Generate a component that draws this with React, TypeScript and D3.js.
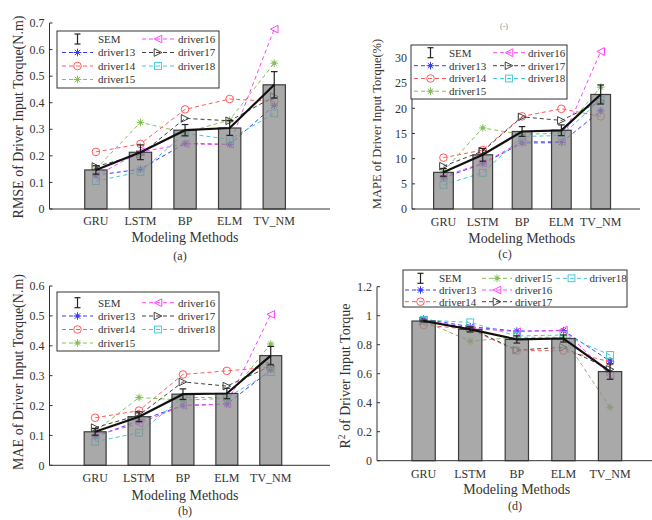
import React from "react";
import * as d3 from "d3";

const categories = ["GRU", "LSTM", "BP", "ELM", "TV_NM"];
const driverNames = ["driver13", "driver14", "driver15", "driver16", "driver17", "driver18"];

// rows = drivers 13..18, columns = categories
const rmseValues = [
  [0.127, 0.150, 0.247, 0.243, 0.390],
  [0.215, 0.245, 0.375, 0.414, 0.405],
  [0.150, 0.326, 0.287, 0.335, 0.549],
  [0.125, 0.215, 0.245, 0.243, 0.677],
  [0.160, 0.205, 0.341, 0.332, 0.423],
  [0.105, 0.140, 0.285, 0.262, 0.360],
];
const maeValues = [
  [0.096, 0.149, 0.200, 0.205, 0.319],
  [0.159, 0.183, 0.304, 0.316, 0.328],
  [0.113, 0.227, 0.218, 0.224, 0.406],
  [0.100, 0.140, 0.200, 0.205, 0.505],
  [0.126, 0.168, 0.279, 0.265, 0.332],
  [0.079, 0.109, 0.227, 0.227, 0.312],
];
const mapeValues = [
  [6.2, 9.0, 13.1, 13.2, 19.5],
  [10.2, 11.7, 18.4, 19.9, 18.4],
  [7.5, 16.1, 14.8, 15.1, 24.2],
  [6.5, 9.1, 13.4, 13.4, 31.3],
  [8.5, 11.5, 18.3, 17.6, 21.4],
  [4.8, 7.2, 14.4, 14.6, 21.7],
];
const r2Values = [
  [0.977, 0.924, 0.894, 0.897, 0.687],
  [0.936, 0.906, 0.759, 0.759, 0.683],
  [0.963, 0.825, 0.851, 0.851, 0.368],
  [0.970, 0.913, 0.890, 0.901, 0.591],
  [0.963, 0.913, 0.763, 0.782, 0.630],
  [0.970, 0.954, 0.860, 0.867, 0.729],
];

const rmseTicks = [0, 0.1, 0.2, 0.3, 0.4, 0.5, 0.6, 0.7];
const maeTicks = [0, 0.1, 0.2, 0.3, 0.4, 0.5, 0.6];
const mapeTicks = [0, 5, 10, 15, 20, 25, 30];
const r2Ticks = [0, 0.2, 0.4, 0.6, 0.8, 1, 1.2];

const driverColors = ["#3a3aff", "#ff5a5a", "#86c05a", "#ff44ff", "#404040", "#44c8d8"];
const driverMarkers = ["asterisk", "circle", "asterisk", "triLeft", "triRight", "square"];

const FONT = "'Liberation Serif', 'Times New Roman', serif";
const TXT = "#333";

function Marker({ type, x, y, color }: { type: string; x: number; y: number; color: string }) {
  const s = 3.8;
  const common = { stroke: color, strokeWidth: 1, fill: "none" };
  if (type === "asterisk") {
    const d = s * 0.72;
    return (
      <g {...common}>
        <line x1={x - s} y1={y} x2={x + s} y2={y} />
        <line x1={x} y1={y - s} x2={x} y2={y + s} />
        <line x1={x - d} y1={y - d} x2={x + d} y2={y + d} />
        <line x1={x - d} y1={y + d} x2={x + d} y2={y - d} />
        <circle cx={x} cy={y} r={1.4} fill={color} />
      </g>
    );
  }
  if (type === "circle") return <circle cx={x} cy={y} r={s} {...common} />;
  if (type === "square") return <rect x={x - s * 0.9} y={y - s * 0.9} width={s * 1.8} height={s * 1.8} {...common} />;
  if (type === "triLeft")
    return <polygon points={`${x - s},${y} ${x + s},${y - s} ${x + s},${y + s}`} {...common} />;
  return <polygon points={`${x + s},${y} ${x - s},${y - s} ${x - s},${y + s}`} {...common} />;
}

type PanelCfg = {
  values: number[][];
  ticks: number[];
  yDomain: [number, number];
  yRange: [number, number];
  xDomain: [number, number];
  xRange: [number, number];
  yLabel: React.ReactNode;
  yLabelPos: [number, number];
  yLabelSize: number;
  tickLabelY: number;
  titlePos: [number, number];
  panelLabel: string;
  panelLabelPos: [number, number];
  legend: {
    box: [number, number, number, number];
    cols: [number, number, number][];
    rows: number[];
  };
};

function Panel({ cfg }: { cfg: PanelCfg }) {
  const x = d3.scaleLinear().domain(cfg.xDomain).range(cfg.xRange);
  const y = d3.scaleLinear().domain(cfg.yDomain).range(cfg.yRange);
  const spacing = x(2) - x(1);
  const bw = spacing * 0.5;
  const n = cfg.values.length;
  const means = categories.map((_, j) => d3.mean(cfg.values.map((r) => r[j])) as number);
  const sems = categories.map((_, j) => (d3.deviation(cfg.values.map((r) => r[j])) as number) / Math.sqrt(n));
  const line = d3
    .line<number>()
    .x((_, i) => x(i + 1))
    .y((v) => y(v));
  const fmt = (v: number) => String(+v.toFixed(2));
  const legendItems = ["SEM", ...driverNames];
  const nRows = cfg.legend.rows.length;

  return (
    <g fontFamily={FONT}>
      {cfg.values.map((row, di) => (
        <g key={di}>
          <path d={line(row) || ""} fill="none" stroke={driverColors[di]} strokeWidth={1} strokeDasharray="4,3" />
          {row.map((v, j) => (
            <Marker key={j} type={driverMarkers[di]} x={x(j + 1)} y={y(v)} color={driverColors[di]} />
          ))}
        </g>
      ))}
      {means.map((m, j) => (
        <rect
          key={j}
          x={x(j + 1) - bw / 2}
          y={y(m)}
          width={bw}
          height={y(0) - y(m)}
          fill="#8c8c8c"
          fillOpacity={0.75}
          stroke="#3c3c3c"
          strokeWidth={1.2}
        />
      ))}
      {means.map((m, j) => (
        <g key={j} stroke="#222" strokeWidth={1.2}>
          <line x1={x(j + 1)} x2={x(j + 1)} y1={y(m - sems[j])} y2={y(m + sems[j])} />
          <line x1={x(j + 1) - 3.3} x2={x(j + 1) + 3.3} y1={y(m - sems[j])} y2={y(m - sems[j])} />
          <line x1={x(j + 1) - 3.3} x2={x(j + 1) + 3.3} y1={y(m + sems[j])} y2={y(m + sems[j])} />
        </g>
      ))}
      <path d={line(means) || ""} fill="none" stroke="#111" strokeWidth={2.2} />
      <g stroke="#333" strokeWidth={1}>
        <line x1={cfg.xRange[0]} x2={cfg.xRange[1]} y1={y(0)} y2={y(0)} />
        <line x1={cfg.xRange[0]} x2={cfg.xRange[0]} y1={y(cfg.yDomain[0])} y2={y(cfg.yDomain[1])} />
        {cfg.ticks.map((t) => (
          <line key={t} x1={cfg.xRange[0]} x2={cfg.xRange[0] + 3} y1={y(t)} y2={y(t)} />
        ))}
      </g>
      {cfg.ticks.map((t) => (
        <text key={t} x={cfg.xRange[0] - 5} y={y(t)} dy="0.35em" textAnchor="end" fontSize={12} fill={TXT}>
          {fmt(t)}
        </text>
      ))}
      {categories.map((c, j) => (
        <text key={c} x={x(j + 1)} y={cfg.tickLabelY} dy="0.35em" textAnchor="middle" fontSize={12} fill={TXT}>
          {c}
        </text>
      ))}
      <text x={cfg.titlePos[0]} y={cfg.titlePos[1]} dy="0.35em" textAnchor="middle" fontSize={14} fill={TXT}>
        Modeling Methods
      </text>
      <text
        transform={`translate(${cfg.yLabelPos[0]},${cfg.yLabelPos[1]}) rotate(-90)`}
        dy="0.35em"
        textAnchor="middle"
        fontSize={cfg.yLabelSize}
        fill={TXT}
      >
        {cfg.yLabel}
      </text>
      <text x={cfg.panelLabelPos[0]} y={cfg.panelLabelPos[1]} dy="0.35em" textAnchor="middle" fontSize={12} fill={TXT}>
        {cfg.panelLabel}
      </text>
      <rect
        x={cfg.legend.box[0]}
        y={cfg.legend.box[1]}
        width={cfg.legend.box[2]}
        height={cfg.legend.box[3]}
        fill="#fff"
        stroke="#333"
        strokeWidth={1}
      />
      {legendItems.map((name, k) => {
        const col = cfg.legend.cols[Math.floor(k / nRows)];
        const ry = cfg.legend.rows[k % nRows];
        const [x0, x1, tx] = col;
        const mx = (x0 + x1) / 2;
        return (
          <g key={name}>
            {k === 0 ? (
              <g stroke="#222" strokeWidth={1.2}>
                <line x1={mx} x2={mx} y1={ry - 5} y2={ry + 5} />
                <line x1={mx - 3} x2={mx + 3} y1={ry - 5} y2={ry - 5} />
                <line x1={mx - 3} x2={mx + 3} y1={ry + 5} y2={ry + 5} />
              </g>
            ) : (
              <g>
                <line x1={x0} x2={x1} y1={ry} y2={ry} stroke={driverColors[k - 1]} strokeWidth={1} strokeDasharray="4,3" />
                <Marker type={driverMarkers[k - 1]} x={mx} y={ry} color={driverColors[k - 1]} />
              </g>
            )}
            <text x={tx} y={ry} dy="0.35em" fontSize={11} fill={TXT}>
              {name}
            </text>
          </g>
        );
      })}
    </g>
  );
}

const panelA: PanelCfg = {
  values: rmseValues,
  ticks: rmseTicks,
  yDomain: [0, 0.7],
  yRange: [209, 23],
  xDomain: [-0.04, 6.25],
  xRange: [49.5, 330],
  yLabel: "RMSE of Driver Input Torque(N.m)",
  yLabelPos: [18, 117],
  yLabelSize: 14,
  tickLabelY: 221,
  titlePos: [185, 237],
  panelLabel: "(a)",
  panelLabelPos: [180, 256],
  legend: {
    box: [57, 31, 162, 57],
    cols: [
      [62, 93, 98],
      [142, 174, 178],
    ],
    rows: [39, 52.5, 66, 79.5],
  },
};

const panelB: PanelCfg = {
  values: maeValues,
  ticks: maeTicks,
  yDomain: [0, 0.6],
  yRange: [465.3, 286],
  xDomain: [-0.04, 6.35],
  xRange: [49.5, 330],
  yLabel: "MAE of Driver Input Torque(N.m)",
  yLabelPos: [18, 372],
  yLabelSize: 14,
  tickLabelY: 478,
  titlePos: [185, 495],
  panelLabel: "(b)",
  panelLabelPos: [185, 511],
  legend: {
    box: [57, 292, 162, 59],
    cols: [
      [62, 93, 98],
      [142, 174, 178],
    ],
    rows: [302.7, 316, 329.5, 343],
  },
};

const panelC: PanelCfg = {
  values: mapeValues,
  ticks: mapeTicks,
  yDomain: [0, 32.5],
  yRange: [209, 45.4],
  xDomain: [0.2, 6.0],
  xRange: [412, 640],
  yLabel: "MAPE of Driver Input Torque(%)",
  yLabelPos: [377, 124],
  yLabelSize: 12.5,
  tickLabelY: 221.7,
  titlePos: [521.7, 238],
  panelLabel: "(c)",
  panelLabelPos: [505, 254],
  legend: {
    box: [411, 45, 156, 54],
    cols: [
      [414, 447, 449],
      [493, 525, 528],
    ],
    rows: [52.7, 65.7, 78.5, 91.2],
  },
};

const panelD: PanelCfg = {
  values: r2Values,
  ticks: r2Ticks,
  yDomain: [0, 1.2],
  yRange: [460.7, 286.7],
  xDomain: [0, 5.9],
  xRange: [377, 652],
  yLabel: (
    <>
      R<tspan dy={-5} fontSize={9.5}>2</tspan>
      <tspan dy={5}> of Driver Input Torque</tspan>
    </>
  ),
  yLabelPos: [345, 376],
  yLabelSize: 14,
  tickLabelY: 473.3,
  titlePos: [516.7, 489],
  panelLabel: "(d)",
  panelLabelPos: [515, 506],
  legend: {
    box: [403, 270, 224, 37],
    cols: [
      [405, 436, 439],
      [482, 512, 515],
      [556, 587, 589.5],
    ],
    rows: [278.3, 290, 301.7],
  },
};

export default function App() {
  return (
    <svg
      width={652}
      height={520}
      style={{ position: "absolute", left: 0, top: 0, background: "#fff" }}
    >
      <rect width={652} height={520} fill="#fff" />
      <text x={504} y={29} textAnchor="middle" fontSize={8} fill="#888" fontFamily={FONT}>
        (-)
      </text>
      <Panel cfg={panelA} />
      <Panel cfg={panelB} />
      <Panel cfg={panelC} />
      <Panel cfg={panelD} />
    </svg>
  );
}
